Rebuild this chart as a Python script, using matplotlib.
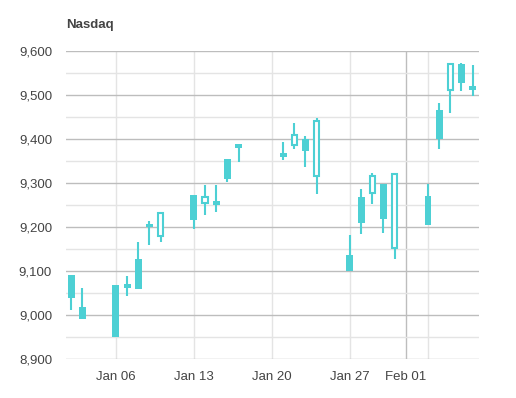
import datetime as dt
import matplotlib
matplotlib.use("Agg")
import matplotlib.pyplot as plt
import matplotlib.dates as mdates
from matplotlib.ticker import FuncFormatter, MultipleLocator

plt.rcParams["font.family"] = ["Liberation Sans", "DejaVu Sans"]

# ---- Data ----
days = ["2020-01-02", "2020-01-03", "2020-01-06", "2020-01-07", "2020-01-08",
        "2020-01-09", "2020-01-10", "2020-01-13", "2020-01-14", "2020-01-15",
        "2020-01-16", "2020-01-17", "2020-01-21", "2020-01-22", "2020-01-23",
        "2020-01-24", "2020-01-27", "2020-01-28", "2020-01-29", "2020-01-30",
        "2020-01-31", "2020-02-03", "2020-02-04", "2020-02-05", "2020-02-06",
        "2020-02-07"]
opens = [9039, 8992, 8950, 9062, 9060, 9199, 9232, 9217, 9268, 9249, 9310, 9380, 9360,
         9409, 9373, 9442, 9100, 9210, 9317, 9219, 9320, 9205, 9400, 9570, 9528, 9512]
highs = [9092, 9061, 9069, 9089, 9166, 9214, 9232, 9273, 9295, 9295, 9355, 9388, 9393,
         9436, 9407, 9448, 9182, 9286, 9323, 9298, 9320, 9298, 9482, 9570, 9573, 9568]
lows = [9011, 8992, 8950, 9044, 9060, 9160, 9167, 9196, 9228, 9233, 9303, 9348, 9353,
        9378, 9337, 9276, 9100, 9183, 9253, 9187, 9128, 9205, 9378, 9458, 9510, 9498]
closes = [9091, 9018, 9068, 9070, 9127, 9207, 9180, 9273, 9254, 9258, 9355, 9388, 9369,
          9386, 9399, 9317, 9136, 9268, 9277, 9298, 9152, 9270, 9466, 9511, 9570, 9521]

week_ticks = ["2020-01-06", "2020-01-13", "2020-01-20", "2020-01-27", "2020-02-03"]
month_tick = "2020-02-01"
tick_days = ["2020-01-06", "2020-01-13", "2020-01-20", "2020-01-27", "2020-02-01"]
tick_labels = ["Jan 06", "Jan 13", "Jan 20", "Jan 27", "Feb 01"]

color = "#4dd0d4"

x = mdates.datestr2num(days)

fig = plt.figure(figsize=(5.16, 3.98), dpi=100)
ax = fig.add_axes([66 / 516, 39 / 398, 413 / 516, 308 / 398])

# gridlines
for d in mdates.datestr2num(week_ticks):
    ax.axvline(d, color="#e4e4e4", lw=1, zorder=0)
ax.axvline(mdates.datestr2num(month_tick), color="#bdbdbd", lw=1, zorder=0)
ax.yaxis.set_major_locator(MultipleLocator(100))
ax.yaxis.set_minor_locator(MultipleLocator(50))
ax.grid(axis="y", which="major", color="#bdbdbd", lw=1, zorder=0)
ax.grid(axis="y", which="minor", color="#e4e4e4", lw=1, zorder=0)

# wicks
ax.vlines(x, lows, highs, color=color, lw=1.5, zorder=2)

# bodies: filled when rising, hollow when falling
for xi, o, c in zip(x, opens, closes):
    lo, hi = min(o, c), max(o, c)
    if c >= o:
        ax.bar(xi, hi - lo, bottom=lo, width=0.62, color=color, lw=0, zorder=3)
    else:
        ax.bar(xi, hi - lo, bottom=lo, width=0.48, facecolor="white",
               edgecolor=color, lw=1.5, zorder=3)

ax.set_ylim(8900, 9600)
ax.set_xlim(x[0] - 0.48, x[-1] + 0.58)
ax.yaxis.set_major_formatter(FuncFormatter(lambda v, p: f"{v:,.0f}"))
ax.set_xticks(mdates.datestr2num(tick_days))
ax.set_xticklabels(tick_labels)

for s in ax.spines.values():
    s.set_visible(False)
ax.tick_params(axis="both", which="both", length=0, colors="#444444", labelsize=9.5)
ax.tick_params(axis="y", pad=10)
ax.tick_params(axis="x", pad=9)

fig.text(66 / 516, 1 - 28 / 398, "Nasdaq", fontsize=9.5, fontweight="bold",
         color="#444444", ha="left", va="baseline")

fig.savefig("out.png", dpi=100)
